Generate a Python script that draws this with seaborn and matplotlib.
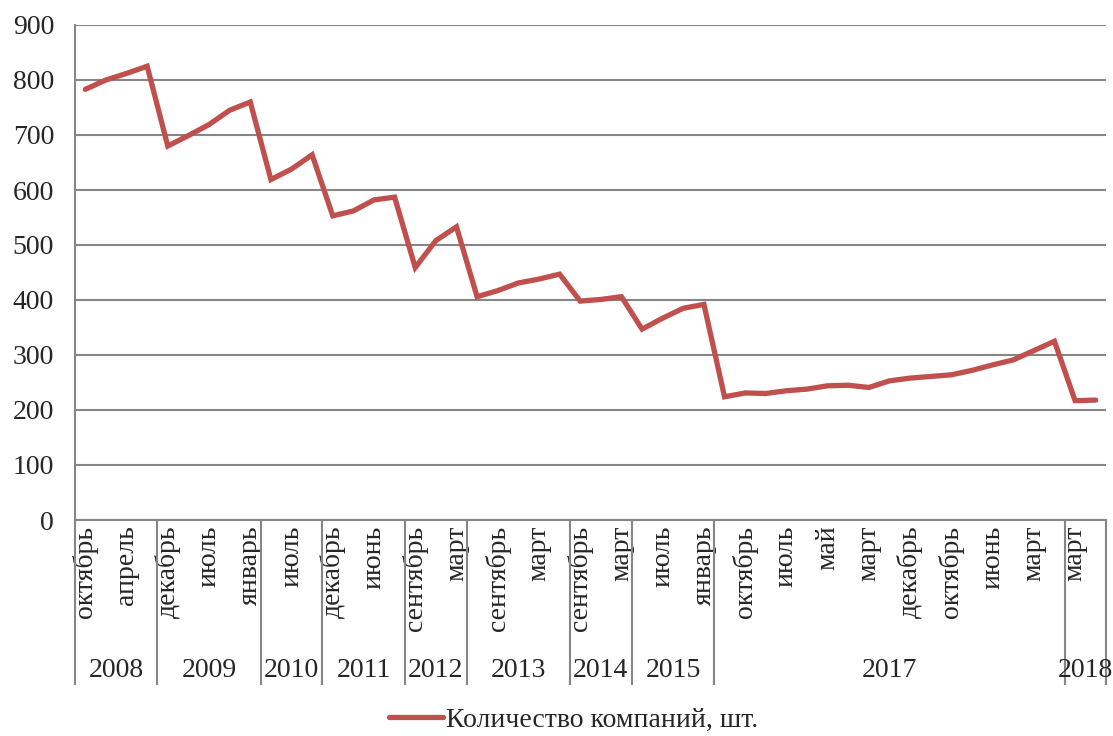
import numpy as np
import pandas as pd
import seaborn as sns
import matplotlib.pyplot as plt
import matplotlib.transforms as mtransforms

# годы и число периодов в каждом году
years = ['2008', '2009', '2010', '2011', '2012', '2013', '2014', '2015', '2017', '2018']
year_counts = [4, 5, 3, 4, 3, 5, 3, 4, 17, 2]

# подписи месяцев (показывается каждая вторая)
months = ['октябрь', 'январь', 'апрель', 'июль',
          'декабрь', 'апрель', 'июль', 'октябрь', 'январь',
          'апрель', 'июль', 'октябрь',
          'декабрь', 'март', 'июнь', 'сентябрь',
          'сентябрь', 'декабрь', 'март',
          'июнь', 'сентябрь', 'декабрь', 'март', 'июнь',
          'сентябрь', 'декабрь', 'март',
          'апрель', 'июль', 'октябрь', 'январь',
          'сентябрь', 'октябрь', 'июнь', 'июль', 'апрель', 'май', 'февраль', 'март',
          'ноябрь', 'декабрь', 'сентябрь', 'октябрь', 'май', 'июнь', 'февраль', 'март', 'апрель',
          'март', 'апрель']

companies = [783, 800, 812, 825, 680, 699, 719, 745, 760, 619,
             638, 664, 553, 562, 582, 587, 459, 508, 533, 406,
             417, 431, 438, 447, 398, 401, 406, 347, 367, 385,
             392, 224, 231, 230, 235, 238, 244, 245, 241, 253,
             258, 261, 264, 272, 282, 291, 308, 325, 217, 218]

label = 'Количество компаний, шт.'
line_color = '#C0504D'
grid_color = '#868686'
FS = 20

df = pd.DataFrame({'idx': np.arange(len(companies)), 'value': companies})

sns.set_style('white')
plt.rcParams['font.family'] = ['Liberation Serif', 'DejaVu Serif']

fig = plt.figure(figsize=(11.13, 7.36), dpi=100)
ax = fig.add_axes([75 / 1113, 216 / 736, 1031 / 1113, 495 / 736])

sns.lineplot(data=df, x='idx', y='value', ax=ax, color=line_color,
             linewidth=3.8, label=label, solid_capstyle='round', solid_joinstyle='miter')

ax.set_xlim(-0.5, len(companies) - 0.5)
ax.set_ylim(0, 900)
ax.set_yticks(range(0, 901, 100))
ax.yaxis.grid(True, color=grid_color, linewidth=1.5)
ax.set_axisbelow(True)
ax.tick_params(axis='y', length=0, pad=15, labelsize=FS)
ax.set_xlabel('')
ax.set_ylabel('')

for s in ['top', 'right']:
    ax.spines[s].set_visible(False)
for s in ['left', 'bottom']:
    ax.spines[s].set_color(grid_color)
    ax.spines[s].set_linewidth(1.5)

# подписи месяцев
ax.set_xticks(df['idx'][::2])
ax.set_xticklabels(months[::2], rotation=90, fontsize=FS, va='top', ha='center')
ax.tick_params(axis='x', length=0, pad=4)

# разделители лет и подписи годов
trans = mtransforms.blended_transform_factory(ax.transData, ax.transAxes)
bounds = np.concatenate([[0], np.cumsum(year_counts)]) - 0.5
ax.vlines(bounds, -0.333, 0, transform=trans, color=grid_color, linewidth=1.5, clip_on=False)
for i, y in enumerate(years):
    center = (bounds[i] + bounds[i + 1]) / 2
    ax.text(center, -0.305, y, transform=trans, ha='center', va='center', fontsize=FS)

leg = ax.legend(loc='center', bbox_to_anchor=(0.4835, -0.405), frameon=False,
                fontsize=FS, handlelength=1.95, handletextpad=0.1)

fig.savefig('out.png', dpi=100)
